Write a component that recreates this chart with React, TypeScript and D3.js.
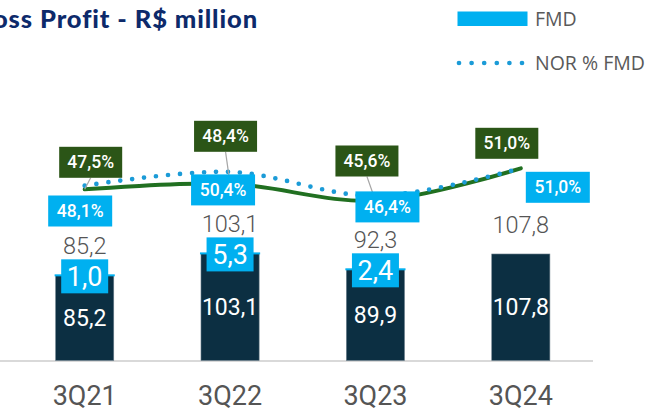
import React from "react";
import * as d3 from "d3";

const categories = ["3Q21", "3Q22", "3Q23", "3Q24"];
const baseValues = [85.2, 103.1, 89.9, 107.8];
const fmdValues = [1.0, 5.3, 2.4, 0];
const totalLabels = [85.2, 103.1, 92.3, 107.8];
const grossMargin = [47.5, 48.4, 45.6, 51.0];
const norFmd = [48.1, 50.4, 46.4, 51.0];

// label layout offsets (relative to the data point)
const greenOffsets = [[6, -27], [-4.5, -47.6], [-8.5, -39.7], [-14, -25]];
const blueOffsets = [[-4.5, 25.3], [-7, 18], [12, 11], [37, 19]];
const leaderShown = [true, true, true, false];

const fmt = (v: number) => v.toFixed(1).replace(".", ",");

const W = 665;
const H = 412;
const NAVY_BAR = "#0c2f42";
const BLUE = "#00b0f0";
const DOT = "#1b9bd7";
const GREEN_LINE = "#217021";
const GREEN_BOX = "#2b5517";
const GRAY = "#555555";
const NUM_FONT = "Roboto, 'Open Sans', sans-serif";

export default function App() {
  const x = d3.scaleBand<string>().domain(categories).range([12, 593.5]).paddingInner(0.6).paddingOuter(0.3);
  const yBar = d3.scaleLinear().domain([0, 120]).range([360.5, 360.5 - 120 * 0.988]);
  const yPct = d3.scaleLinear().domain([40, 55]).range([234.3, 144.3]);
  const cx = (c: string) => (x(c) as number) + x.bandwidth() / 2;

  const line = d3
    .line<number>()
    .x((_, i) => cx(categories[i]))
    .y((d) => yPct(d))
    .curve(d3.curveCatmullRom.alpha(0.5));

  const bw = x.bandwidth();

  return (
    <svg width={W} height={H} style={{ position: "absolute", left: 0, top: 0, background: "#fff" }}>
      {/* Title */}
      <text x={258} y={28} textAnchor="end" fontFamily="Lato, 'Noto Sans', sans-serif" fontWeight={900} fontSize={25.5} letterSpacing={0.9} fill="#0d2a6b">
        Gross Profit - R$ million
      </text>

      {/* Legend */}
      <rect x={457.5} y={11.5} width={70} height={14.5} fill={BLUE} />
      <text x={535} y={26} fontFamily="'Open Sans', sans-serif" fontSize={19.5} fill="#595959">FMD</text>
      <line x1={459} x2={522} y1={63} y2={63} stroke={DOT} strokeWidth={4.7} strokeLinecap="round" strokeDasharray="0 12.6" />
      <text x={535} y={70} fontFamily="'Open Sans', sans-serif" fontSize={19.5} fill="#595959">NOR % FMD</text>

      {/* Axis line */}
      <line x1={0} x2={593} y1={361} y2={361} stroke="#d9d9d9" strokeWidth={2} />

      {/* Bars */}
      {categories.map((c, i) => {
        const top = yBar(baseValues[i] + fmdValues[i]);
        return (
          <g key={c}>
            <rect x={x(c)} y={top} width={bw} height={yBar(0) - top} fill={NAVY_BAR} stroke="#6b7f8c" strokeWidth={0.6} />
            {fmdValues[i] > 0 && (
              <rect x={(x(c) as number) - 1} y={top - 1} width={bw + 2} height={2} fill={BLUE} />
            )}
          </g>
        );
      })}

      {/* Category labels */}
      {categories.map((c) => (
        <text key={c} x={cx(c)} y={405} textAnchor="middle" fontFamily={NUM_FONT} fontSize={27} fill={GRAY}>
          {c}
        </text>
      ))}

      {/* Inner labels */}
      {categories.map((c, i) => {
        const top = yBar(baseValues[i] + fmdValues[i]);
        return (
          <text key={c} x={cx(c)} y={(top + yBar(0)) / 2 + 8} textAnchor="middle" fontFamily={NUM_FONT} fontSize={23} fill="#ffffff">
            {fmt(baseValues[i])}
          </text>
        );
      })}

      {/* Total labels */}
      {categories.map((c, i) => {
        const top = yBar(baseValues[i] + fmdValues[i]);
        return (
          <text key={c} x={cx(c)} y={top - 21} textAnchor="middle" fontFamily={NUM_FONT} fontWeight={300} fontSize={23.5} fill={GRAY}>
            {fmt(totalLabels[i])}
          </text>
        );
      })}

      {/* FMD labels */}
      {categories.map((c, i) => {
        if (!(fmdValues[i] > 0)) return null;
        const top = yBar(baseValues[i] + fmdValues[i]);
        const bx = cx(c);
        const by = top + 1;
        return (
          <g key={c}>
            <rect x={bx - 23.5} y={by - 17} width={47} height={34} fill={BLUE} />
            <text x={bx} y={by + 9.5} textAnchor="middle" fontFamily={NUM_FONT} fontSize={27} fill="#ffffff">
              {fmt(fmdValues[i])}
            </text>
          </g>
        );
      })}

      {/* Lines */}
      <path d={line(grossMargin) || ""} fill="none" stroke={GREEN_LINE} strokeWidth={4} strokeLinecap="round" />
      <path d={line(norFmd) || ""} fill="none" stroke={DOT} strokeWidth={4.7} strokeLinecap="round" strokeDasharray="0 12" />

      {/* Leader lines */}
      {categories.map((c, i) => {
        if (!leaderShown[i]) return null;
        const px = cx(c);
        const py = yPct(grossMargin[i]);
        const lx = px + greenOffsets[i][0];
        const ly = py + greenOffsets[i][1] + 15.5;
        return <line key={c} x1={lx} y1={ly} x2={px} y2={py} stroke="#a6a6a6" strokeWidth={1.2} />;
      })}

      {/* Green (gross margin) labels */}
      {categories.map((c, i) => {
        const bx = cx(c) + greenOffsets[i][0];
        const by = yPct(grossMargin[i]) + greenOffsets[i][1];
        return (
          <g key={c}>
            <rect x={bx - 31.5} y={by - 15.5} width={63} height={31} fill={GREEN_BOX} />
            <text x={bx} y={by + 6} textAnchor="middle" fontFamily={NUM_FONT} fontWeight={500} fontSize={17.5} fill="#ffffff">
              {fmt(grossMargin[i])}%
            </text>
          </g>
        );
      })}

      {/* Blue (NOR % FMD) labels */}
      {categories.map((c, i) => {
        const bx = cx(c) + blueOffsets[i][0];
        const by = yPct(norFmd[i]) + blueOffsets[i][1];
        return (
          <g key={c}>
            <rect x={bx - 32} y={by - 15.5} width={64} height={31} fill={BLUE} />
            <text x={bx} y={by + 6} textAnchor="middle" fontFamily={NUM_FONT} fontWeight={500} fontSize={17.5} fill="#ffffff">
              {fmt(norFmd[i])}%
            </text>
          </g>
        );
      })}
    </svg>
  );
}
